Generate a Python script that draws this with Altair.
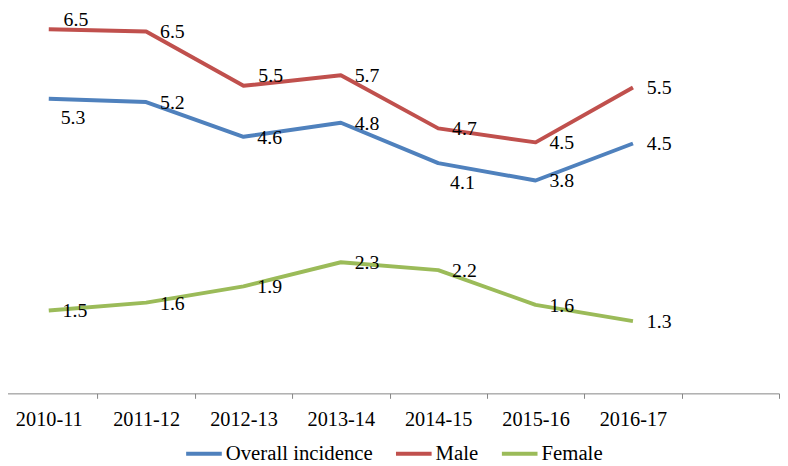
import altair as alt
import pandas as pd

YEARS = ["2010-11", "2011-12", "2012-13", "2013-14", "2014-15", "2015-16", "2016-17"]
SERIES = ["Overall incidence", "Male", "Female"]
OVERALL = [5.26, 5.20, 4.58, 4.83, 4.11, 3.80, 4.46]
MALE = [6.50, 6.46, 5.49, 5.68, 4.73, 4.48, 5.46]
FEMALE = [1.48, 1.62, 1.91, 2.34, 2.20, 1.58, 1.29]
COLORS = ["#4F81BD", "#C0504D", "#9BBB59"]

# label placement (annotation layout, not data)
ABOVE = {("Male", "2010-11"), ("Male", "2012-13")}
BELOW = {("Overall incidence", "2010-11"), ("Overall incidence", "2014-15")}

rows = []
for name, vals in zip(SERIES, [OVERALL, MALE, FEMALE]):
    for yr, v in zip(YEARS, vals):
        place = "above" if (name, yr) in ABOVE else ("below" if (name, yr) in BELOW else "right")
        rows.append({"series": name, "year": yr, "value": v, "place": place})
df = pd.DataFrame(rows)

CATS = YEARS + [" "]
FONT = "'Liberation Serif', 'Times New Roman', 'DejaVu Serif', serif"

x = alt.X(
    "year:N",
    bandPosition=0.5,
    scale=alt.Scale(type="band", domain=CATS, range=[-8, 779], paddingInner=0, paddingOuter=0),
    axis=alt.Axis(
        title=None, tickBand="extent", labelAngle=0, labelFont=FONT, labelFontSize=20.5,
        labelColor="black", domainColor="#868686", tickColor="#868686", tickSize=5,
        labelBaseline="middle", labelPadding=21, labelOverlap=False, grid=False,
    ),
)
y = alt.Y("value:Q", scale=alt.Scale(domain=[0, 6.837], nice=False), axis=None)

base = alt.Chart(df)

lines = base.mark_line(strokeWidth=4, strokeJoin="round").encode(
    x=x,
    y=y,
    color=alt.Color(
        "series:N",
        scale=alt.Scale(domain=SERIES, range=COLORS),
        legend=alt.Legend(
            title=None, orient="none", legendX=178, legendY=428, direction="horizontal",
            columns=3, symbolType="stroke", symbolStrokeWidth=4, symbolSize=1296,
            labelFont=FONT, labelFontSize=21, labelColor="black", labelOffset=2,
            columnPadding=15, labelLimit=400,
        ),
    ),
    detail="series:N",
)

def labels(place, dx, dy):
    return base.transform_filter(alt.datum.place == place).mark_text(
        align="left", baseline="middle", dx=dx, dy=dy, font=FONT, fontSize=20, color="black"
    ).encode(x=x, y=y, text=alt.Text("value:Q", format=".1f"))

chart = alt.layer(
    lines,
    labels("right", 14, 1),
    labels("above", 15, -9.5),
    labels("below", 12, 20),
).properties(
    width=780,
    height=387,
    autosize=alt.AutoSizeParams(type="none"),
    padding={"left": 0, "top": 0, "right": 0, "bottom": 70},
).configure_view(stroke=None)

chart.save("out.html", embed_options={"renderer": "svg", "actions": False})
